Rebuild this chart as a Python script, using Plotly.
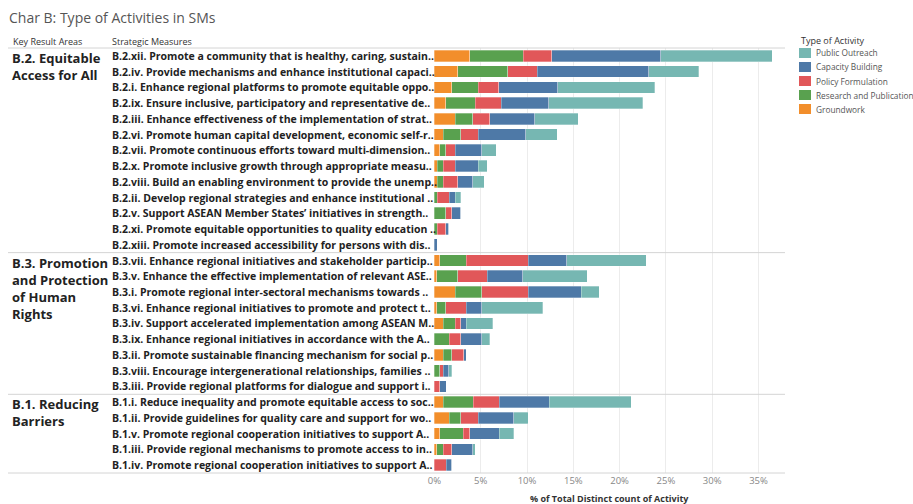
import plotly.graph_objects as go

# ---- data (% of total distinct count of activity) ----
areas = ["B.2. Equitable<br>Access for All",
         "B.3. Promotion<br>and Protection<br>of Human<br>Rights",
         "B.1. Reducing<br>Barriers"]

measures_b2 = [
    "B.2.xii. Promote a community that is healthy, caring, sustain..",
    "B.2.iv. Provide mechanisms and enhance institutional capaci..",
    "B.2.i. Enhance regional platforms to promote equitable oppo..",
    "B.2.ix. Ensure inclusive, participatory and representative de..",
    "B.2.iii. Enhance effectiveness of the implementation of strat..",
    "B.2.vi. Promote human capital development, economic self-r..",
    "B.2.vii. Promote continuous efforts toward multi-dimension..",
    "B.2.x. Promote inclusive growth through appropriate measu..",
    "B.2.viii. Build an enabling environment to provide the unemp..",
    "B.2.ii. Develop regional strategies and enhance institutional ..",
    "B.2.v. Support ASEAN Member States\u2019 initiatives in strength..",
    "B.2.xi. Promote equitable opportunities to quality education ..",
    "B.2.xiii. Promote increased accessibility for persons with dis..",
]
measures_b3 = [
    "B.3.vii. Enhance regional initiatives and stakeholder particip..",
    "B.3.v. Enhance the effective implementation of relevant ASE..",
    "B.3.i. Promote regional inter-sectoral mechanisms towards ..",
    "B.3.vi. Enhance regional initiatives to promote and protect t..",
    "B.3.iv. Support accelerated implementation among ASEAN M..",
    "B.3.ix. Enhance regional initiatives in accordance with the A..",
    "B.3.ii. Promote sustainable financing mechanism for social p..",
    "B.3.viii. Encourage intergenerational relationships, families ..",
    "B.3.iii. Provide regional platforms for dialogue and support i..",
]
measures_b1 = [
    "B.1.i. Reduce inequality and promote equitable access to soc..",
    "B.1.ii. Provide guidelines for quality care and support for wo..",
    "B.1.v. Promote regional cooperation initiatives to support A..",
    "B.1.iii. Provide regional mechanisms to promote access to in..",
    "B.1.iv. Promote regional cooperation initiatives to support A..",
]

groundwork = [3.81, 2.52, 1.87, 1.22, 2.23, 0.94, 0.58, 0.29, 0.29, 0, 0, 0, 0,
              0.58, 0.25, 2.23, 0.25, 0.94, 0, 0.94, 0, 0,
              0.94, 1.58, 0.58, 0.25, 0]
research = [5.76, 5.40, 2.84, 3.20, 1.91, 1.91, 0.65, 0.68, 0.68, 0.29, 1.22, 0.29, 0,
            2.88, 2.27, 2.88, 0.97, 1.29, 1.58, 0.94, 0.58, 0,
            3.24, 1.26, 2.55, 0.72, 0]
policy = [3.09, 3.17, 2.23, 2.81, 1.83, 1.87, 1.01, 1.26, 1.55, 1.29, 0.65, 0.94, 0,
          6.69, 3.17, 5.04, 2.23, 0.61, 1.26, 1.29, 0.36, 0.58,
          2.81, 1.87, 0.68, 0.90, 1.26]
capacity = [11.76, 12.05, 6.37, 5.14, 4.86, 5.14, 2.88, 2.48, 1.62, 0.65, 0.97, 0.32, 0.29,
            4.14, 3.85, 5.72, 1.65, 0.61, 2.27, 0.29, 0.61, 0.68,
            5.43, 3.85, 3.17, 2.27, 0.61]
outreach = [12.09, 5.40, 10.50, 10.14, 4.71, 3.42, 1.58, 0.97, 1.26, 0.61, 0, 0, 0,
            8.56, 6.98, 1.94, 6.58, 2.84, 0.86, 0, 0.32, 0,
            8.85, 1.58, 1.58, 0.29, 0]

activity_types = ["Groundwork", "Research and Publication", "Policy Formulation",
                  "Capacity Building", "Public Outreach"]
colors = ["#F28E2B", "#59A14F", "#E15759", "#4E79A7", "#76B7B2"]
tick_vals = [0, 5, 10, 15, 20, 25, 30, 35]
tick_text = ["0%", "5%", "10%", "15%", "20%", "25%", "30%", "35%"]

measures = measures_b2 + measures_b3 + measures_b1
groups = [measures_b2, measures_b3, measures_b1]

# ---- geometry of the page (pixels) ----
W, H = 913, 504
PL, PR, PT, PB = 434, 785, 48, 473
PW, PH = PR - PL, PB - PT


def px_x(x):
    return (x - PL) / PW


def px_y(y):
    return (PB - y) / PH


FONT = "Open Sans"

fig = go.Figure()
for name, vals, col in zip(activity_types, [groundwork, research, policy, capacity, outreach], colors):
    fig.add_trace(go.Bar(
        name=name, y=measures, x=vals, orientation="h", showlegend=False,
        marker=dict(color=col, line=dict(color="rgba(255,255,255,0.6)", width=0.5)),
        hovertemplate="%{y}<br>" + name + ": %{x:.2f}%<extra></extra>",
    ))

annotations = []
# strategic measure labels
for m in measures:
    annotations.append(dict(
        xref="paper", yref="y", x=px_x(110), y=m, text="<b>" + m + "</b>",
        xanchor="left", yanchor="middle", showarrow=False,
        font=dict(family=FONT, size=10.5, color="#222")))

# key result area labels + separators
shapes = []
for area, grp in zip(areas, groups):
    annotations.append(dict(
        xref="paper", yref="y", x=px_x(10), y=grp[0], yshift=9,
        text="<b>" + area + "</b>", xanchor="left", yanchor="top", align="left",
        showarrow=False, font=dict(family=FONT, size=13, color="#222")))
idx = 0
for grp in groups[:-1]:
    idx += len(grp)
    shapes.append(dict(type="line", xref="paper", yref="y",
                       x0=px_x(8), x1=1, y0=idx - 0.5, y1=idx - 0.5,
                       line=dict(color="#d4d4d4", width=1)))
for yy in (PT, PB):
    shapes.append(dict(type="line", xref="paper", yref="paper",
                       x0=px_x(8), x1=1, y0=px_y(yy), y1=px_y(yy),
                       line=dict(color="#d4d4d4", width=1)))

# column headers
annotations.append(dict(xref="paper", yref="paper", x=px_x(11), y=px_y(41),
                        text="Key Result Areas", xanchor="left", yanchor="middle",
                        showarrow=False, font=dict(family=FONT, size=9, color="#333")))
annotations.append(dict(xref="paper", yref="paper", x=px_x(110), y=px_y(41),
                        text="Strategic Measures", xanchor="left", yanchor="middle",
                        showarrow=False, font=dict(family=FONT, size=9, color="#333")))
# axis title
annotations.append(dict(xref="paper", yref="paper", x=0.5, y=px_y(498),
                        text="<b>% of Total Distinct count of Activity</b>",
                        xanchor="center", yanchor="middle", showarrow=False,
                        font=dict(family=FONT, size=9, color="#333")))

# legend drawn by hand (a plotly legend would push the margins)
annotations.append(dict(xref="paper", yref="paper", x=px_x(799), y=px_y(40),
                        text="Type of Activity", xanchor="left", yanchor="middle",
                        showarrow=False, font=dict(family=FONT, size=9, color="#333")))
for i, (name, col) in enumerate(zip(activity_types[::-1], colors[::-1])):
    yc = 53 + 14 * i
    shapes.append(dict(type="rect", xref="paper", yref="paper",
                       x0=px_x(799), x1=px_x(811), y0=px_y(yc - 5), y1=px_y(yc + 5),
                       fillcolor=col, line=dict(width=0)))
    annotations.append(dict(xref="paper", yref="paper", x=px_x(814), y=px_y(yc),
                            text=name, xanchor="left", yanchor="middle", showarrow=False,
                            font=dict(family=FONT, size=8.3, color="#555")))

fig.update_layout(
    width=W, height=H, autosize=False, showlegend=False,
    margin=dict(l=PL, r=W - PR, t=PT, b=H - PB, pad=0),
    paper_bgcolor="white", plot_bgcolor="white",
    barmode="stack", bargap=0.26,
    title=dict(text="Char B: Type of Activities in SMs", x=9 / W, xanchor="left",
               y=1 - 18 / H, yanchor="middle",
               font=dict(family=FONT, size=14, color="#555")),
    xaxis=dict(range=[-0.05, (PR - PL) / 9.27], autorange=False,
               tickvals=tick_vals, ticktext=tick_text,
               showgrid=True, gridcolor="#ececec", gridwidth=1, zeroline=False,
               showline=False, ticks="", tickfont=dict(family=FONT, size=9.5, color="#888"),
               fixedrange=True),
    yaxis=dict(categoryorder="array", categoryarray=measures,
               range=[len(measures) - 0.5, -0.5], autorange=False,
               showticklabels=False, showgrid=False, zeroline=False, ticks="",
               fixedrange=True),
    annotations=annotations, shapes=shapes,
)

fig.write_html("out.html", config={"displayModeBar": False},
               post_script="document.body.style.margin='0';")
